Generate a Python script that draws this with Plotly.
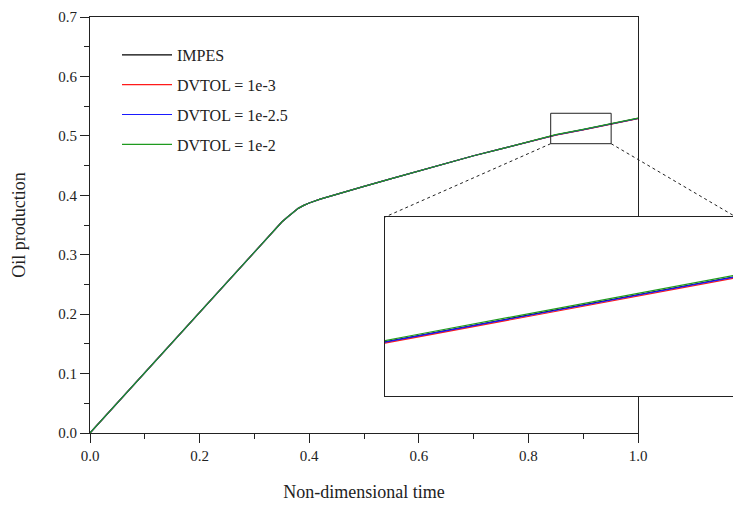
import plotly.graph_objects as go

# ---------------- data ----------------
time = [0, 0.1, 0.2, 0.3, 0.35, 0.36, 0.37, 0.38, 0.39, 0.40, 0.42, 0.45, 0.5, 0.55,
        0.6, 0.65, 0.7, 0.75, 0.8, 0.84, 0.85, 0.9, 0.95, 1.0]
impes = [0, 0.101, 0.202, 0.304, 0.355, 0.363, 0.3705, 0.378, 0.383, 0.387, 0.3935, 0.402,
         0.415, 0.428, 0.441, 0.454, 0.4665, 0.478, 0.4900, 0.4998, 0.5016, 0.5106, 0.5195, 0.5293]
dvtol_3 = [0, 0.101, 0.202, 0.304, 0.355, 0.363, 0.3705, 0.378, 0.383, 0.387, 0.3935, 0.402,
           0.415, 0.428, 0.441, 0.454, 0.4665, 0.478, 0.4896, 0.4994, 0.5012, 0.5102, 0.5191, 0.5289]
dvtol_25 = [0, 0.101, 0.202, 0.304, 0.355, 0.363, 0.3705, 0.378, 0.383, 0.387, 0.3935, 0.402,
            0.415, 0.428, 0.441, 0.454, 0.4665, 0.478, 0.4899, 0.4997, 0.5015, 0.5105, 0.5194, 0.5292]
dvtol_2 = [0, 0.101, 0.202, 0.304, 0.355, 0.363, 0.3705, 0.378, 0.383, 0.387, 0.3935, 0.402,
           0.415, 0.428, 0.441, 0.454, 0.4665, 0.478, 0.4904, 0.5002, 0.5020, 0.5110, 0.5199, 0.5297]

series_names = ["IMPES", "DVTOL = 1e-3", "DVTOL = 1e-2.5", "DVTOL = 1e-2"]
series_values = [impes, dvtol_3, dvtol_25, dvtol_2]
series_colors = ["#000000", "#ff1a1a", "#1a1aff", "#1f9a1f"]

x_ticks = [0.0, 0.2, 0.4, 0.6, 0.8, 1.0]
y_ticks = [0.0, 0.1, 0.2, 0.3, 0.4, 0.5, 0.6, 0.7]

# zoom window
zoom_x = [0.8407, 0.951]
zoom_y = [0.4868, 0.538]
inset_x = [0.8407, 0.9500]
inset_y = [0.4836, 0.5376]

# ---------------- layout geometry ----------------
W, H = 733, 505
main_xdom = [90 / W, 638 / W]
main_ydom = [1 - 433 / H, 1 - 17 / H]
ins_xdom = [385 / W, 1.0]
ins_ydom = [1 - 396 / H, 1 - 217 / H]

FONT = "Liberation Serif"

fig = go.Figure()
for name, vals, col in zip(series_names, series_values, series_colors):
    fig.add_trace(go.Scatter(x=time, y=vals, mode="lines", name=name,
                             legendgroup=name,
                             line=dict(color=col, width=1.2), xaxis="x", yaxis="y"))
for name, vals, col in zip(series_names, series_values, series_colors):
    fig.add_trace(go.Scatter(x=time, y=vals, mode="lines", name=name, showlegend=False,
                             line=dict(color=col, width=1.2), xaxis="x2", yaxis="y2"))

axis_common = dict(showgrid=False, zeroline=False, showline=True, linecolor="#222",
                   linewidth=1, automargin=False)

fig.update_layout(
    width=W, height=H,
    margin=dict(l=0, r=0, t=0, b=0),
    paper_bgcolor="white", plot_bgcolor="white",
    font=dict(family=FONT, size=15, color="#222"),
    xaxis=dict(domain=main_xdom, range=[0, 1], tickvals=x_ticks,
               ticktext=[f"{v:.1f}" for v in x_ticks],
               ticks="outside", ticklen=9, tickcolor="#222", mirror=True,
               minor=dict(dtick=0.1, ticks="outside", ticklen=5, tickcolor="#222"),
               title=dict(text="Non-dimensional time", font=dict(size=18), standoff=22),
               **axis_common),
    yaxis=dict(domain=main_ydom, range=[0, 0.7], tickvals=y_ticks,
               ticktext=[f"{v:.1f}" for v in y_ticks],
               ticks="outside", ticklen=9, tickcolor="#222", mirror=True,
               minor=dict(dtick=0.05, ticks="outside", ticklen=5, tickcolor="#222"),
               title=dict(text="Oil production", font=dict(size=18), standoff=27),
               **axis_common),
    xaxis2=dict(domain=ins_xdom, range=inset_x, showticklabels=False, ticks="",
                anchor="y2", mirror=True, **axis_common),
    yaxis2=dict(domain=ins_ydom, range=inset_y, showticklabels=False, ticks="",
                anchor="x2", **axis_common),
    legend=dict(x=117 / W, y=1 - 38 / H, xanchor="left", yanchor="top",
                bgcolor="rgba(0,0,0,0)", font=dict(size=16), tracegroupgap=6,
                itemwidth=50),
    showlegend=True,
)


def to_paper(v, rng, dom):
    return dom[0] + (v - rng[0]) / (rng[1] - rng[0]) * (dom[1] - dom[0])


# zoom rectangle on main axes
fig.add_shape(type="rect", xref="x", yref="y", x0=zoom_x[0], x1=zoom_x[1],
              y0=zoom_y[0], y1=zoom_y[1], line=dict(color="#222", width=1))

# connector lines (dotted) from rectangle bottom corners to inset top corners
rect_bl = (to_paper(zoom_x[0], [0, 1], main_xdom), to_paper(zoom_y[0], [0, 0.7], main_ydom))
rect_br = (to_paper(zoom_x[1], [0, 1], main_xdom), to_paper(zoom_y[0], [0, 0.7], main_ydom))
ins_tl = (ins_xdom[0], ins_ydom[1])
ins_tr = (736 / W, ins_ydom[1])
for a, b in [(rect_bl, ins_tl), (rect_br, ins_tr)]:
    fig.add_shape(type="line", xref="paper", yref="paper", x0=a[0], y0=a[1], x1=b[0], y1=b[1],
                  line=dict(color="#222", width=1, dash="dot"))

fig.write_html("out.html", config={"displayModeBar": False},
               post_script="document.body.style.margin='0';document.body.style.overflow='hidden';")
